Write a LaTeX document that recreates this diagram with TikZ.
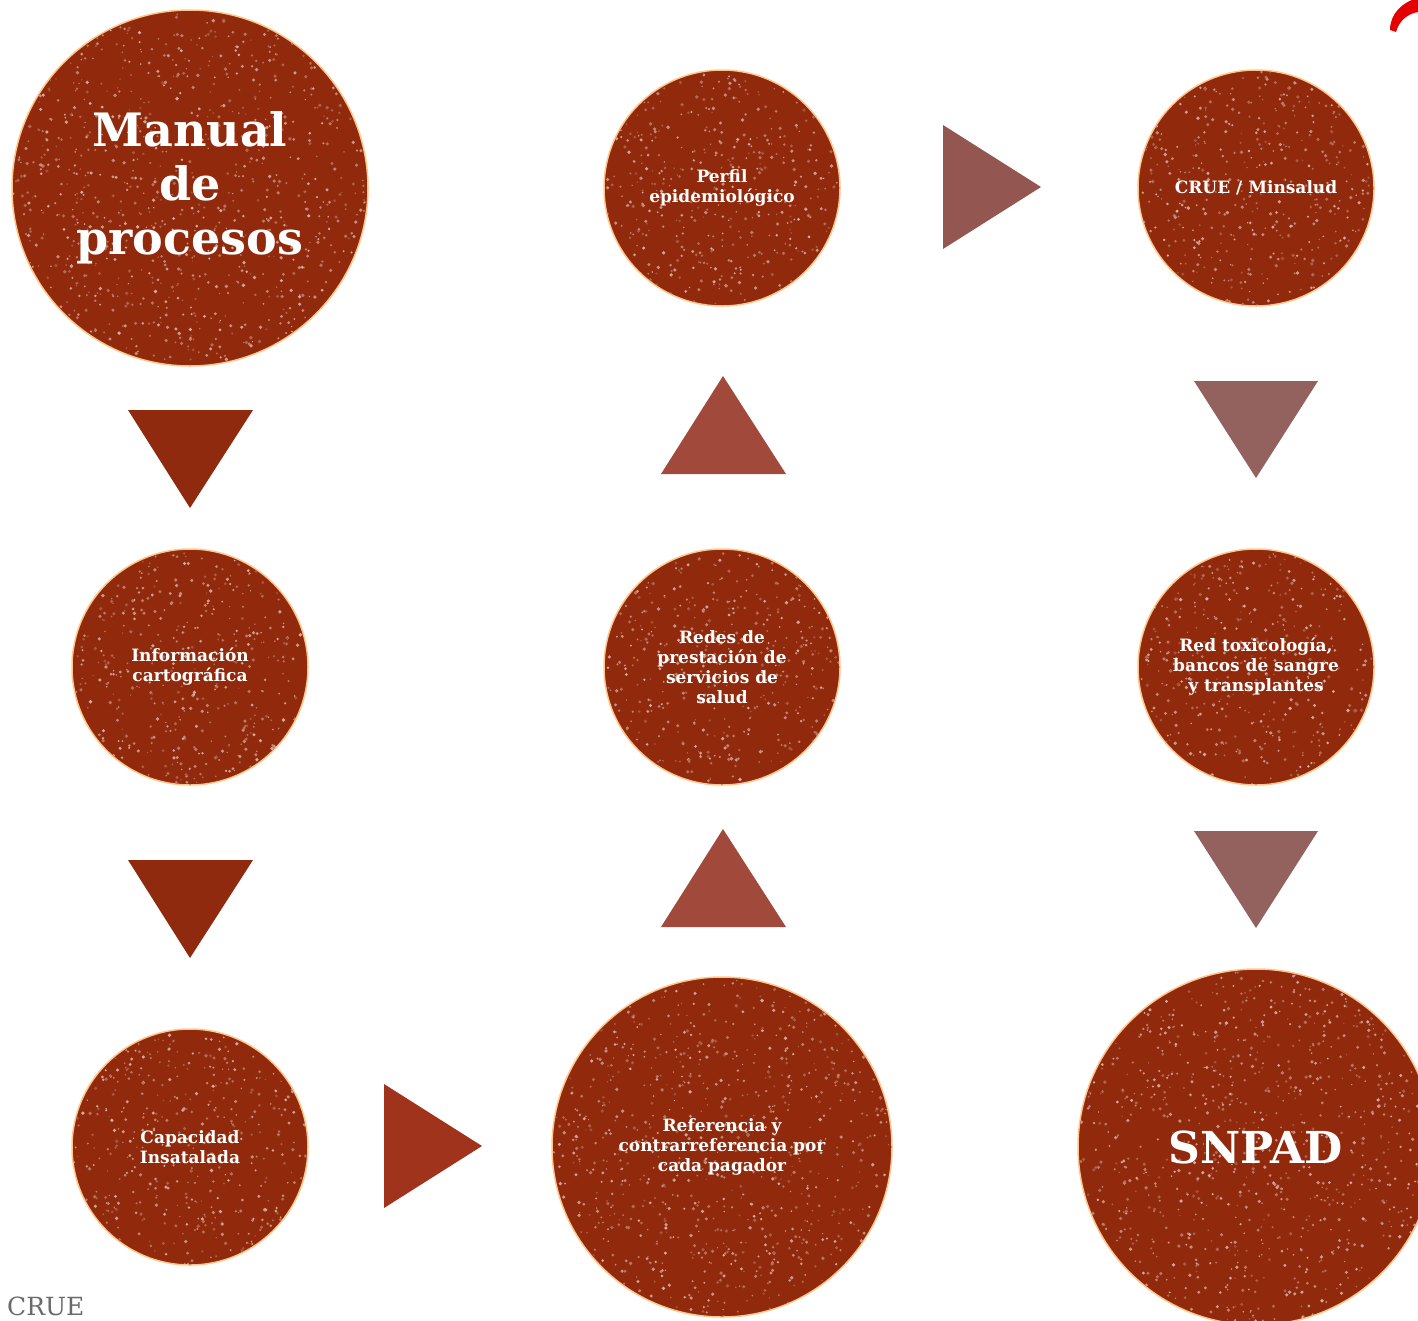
\documentclass[tikz,border=0pt]{standalone}
\usepackage{fontspec}
\setmainfont{DejaVu Serif}
\definecolor{circfill}{HTML}{912A0C}
\definecolor{triL}{HTML}{8F2A0E}
\definecolor{triU}{HTML}{A14A3C}
\definecolor{triR}{HTML}{935650}
\definecolor{triD}{HTML}{93625E}
\definecolor{triB}{HTML}{A0331C}
\definecolor{crueGrey}{HTML}{6A6A6A}
\newcommand\grunge[4]{%
  \begin{scope}
    \clip (#1,#2) circle (#3);
    \foreach \k in {1,...,#4}{%
      \pgfmathsetmacro\ga{360*rnd}%
      \pgfmathsetmacro\gr{#3*sqrt(rnd)}%
      \pgfmathtruncatemacro\gp{18+45*rnd}%
      \pgfmathsetmacro\gs{0.7+1.2*rnd}%
      \fill[white!\gp!circfill] (#1,#2) ++(\ga:\gr) circle (\gs);
    }
  \end{scope}}
\begin{document}
\begin{tikzpicture}[x=1pt,y=-1pt,
  circ/.style={circle,fill=circfill,text=white,align=center,inner sep=0pt,
     draw=orange!45!white,line width=1.5pt},
  smalltxt/.style={font=\bfseries\fontsize{17}{20}\selectfont},
  bigtxt/.style={font=\bfseries\fontsize{46}{54}\selectfont}]
\useasboundingbox (0,0) rectangle (1418,1320);
\clip (0,0) rectangle (1418,1320);
\pgfmathsetseed{7}
% circles
\node[circ,minimum size=356] (manual) at (190,188) {};
\node[circ,minimum size=236] (perfil) at (722,188) {};
\node[circ,minimum size=236] (crue) at (1256,188) {};
\node[circ,minimum size=236] (info) at (190,667) {};
\node[circ,minimum size=236] (redes) at (722,667) {};
\node[circ,minimum size=236] (tox) at (1256,667) {};
\node[circ,minimum size=236] (capac) at (190,1147) {};
\node[circ,minimum size=340] (refer) at (722,1147) {};
\node[circ,minimum size=356] (snpad) at (1256,1147) {};
% texture
\grunge{190}{188}{177}{900}
\grunge{722}{188}{117}{420}
\grunge{1256}{188}{117}{420}
\grunge{190}{667}{117}{420}
\grunge{722}{667}{117}{420}
\grunge{1256}{667}{117}{420}
\grunge{190}{1147}{117}{420}
\grunge{722}{1147}{169}{850}
\grunge{1256}{1147}{177}{900}
% labels
\node[bigtxt,text=white,align=center] (manualT) at (manual.center) {Manual\\de\\procesos};
\node[smalltxt,text=white,align=center] (perfilT) at (perfil.center) {Perfil\\epidemiológico};
\node[smalltxt,text=white,align=center] (crueT) at (crue.center) {CRUE / Minsalud};
\node[smalltxt,text=white,align=center] (infoT) at (info.center) {Información\\cartográfica};
\node[smalltxt,text=white,align=center] (redesT) at (redes.center) {Redes de\\prestación de\\servicios de\\salud};
\node[smalltxt,text=white,align=center] (toxT) at (tox.center) {Red toxicología,\\bancos de sangre\\y transplantes};
\node[smalltxt,text=white,align=center] (capacT) at (capac.center) {Capacidad\\Insatalada};
\node[smalltxt,text=white,align=center] (referT) at (refer.center) {Referencia y\\contrarreferencia por\\cada pagador};
\node[bigtxt,text=white,align=center,font=\bfseries\fontsize{44}{50}\selectfont] (snpadT) at (snpad.center) {SNPAD};
% triangle arrows
\fill[triL] (128,410) -- (253,410) -- (190,508) -- cycle;
\fill[triL] (128,860) -- (253,860) -- (190,958) -- cycle;
\fill[triU] (661,474) -- (786,474) -- (723,376) -- cycle;
\fill[triU] (661,927) -- (786,927) -- (723,829) -- cycle;
\fill[triR] (943,125) -- (943,249) -- (1041,187) -- cycle;
\fill[triD] (1194,381) -- (1318,381) -- (1256,478) -- cycle;
\fill[triD] (1194,831) -- (1318,831) -- (1256,928) -- cycle;
\fill[triB] (384,1084) -- (384,1208) -- (482,1146) -- cycle;
% red crescent top right
\fill[red!90!black] (1390,30) .. controls (1390,14) and (1402,2) .. (1418,-2)
  -- (1418,12) .. controls (1407,14) and (1399,21) .. (1396,32) -- cycle;
% footer
\node[anchor=base west,inner sep=0pt,text=crueGrey,font=\fontsize{25}{28}\selectfont] (footer) at (7,1315) {CRUE};
\end{tikzpicture}
\end{document}
